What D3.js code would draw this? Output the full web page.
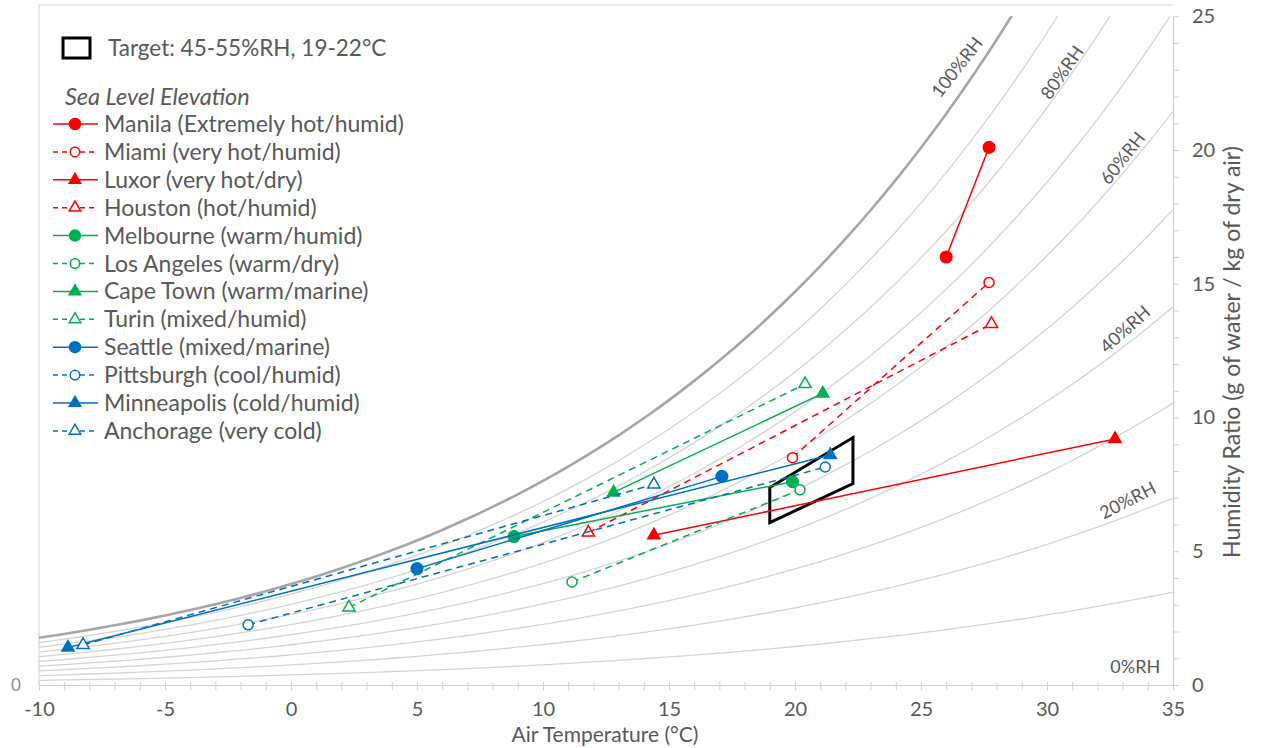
<!DOCTYPE html>
<html>
<head>
<meta charset="utf-8">
<script src="https://cdnjs.cloudflare.com/ajax/libs/d3/7.8.5/d3.min.js"></script>
<style>
  body { margin: 0; background: #fff; }
  text { font-family: Lato, "Open Sans", sans-serif; fill: #595959; }
</style>
</head>
<body>
<svg id="chart" width="1266" height="748"></svg>
<script>
// ---- data ----
var cityNames = [
    "Manila (Extremely hot/humid)", "Miami (very hot/humid)", "Luxor (very hot/dry)", "Houston (hot/humid)",
    "Melbourne (warm/humid)", "Los Angeles (warm/dry)", "Cape Town (warm/marine)", "Turin (mixed/humid)",
    "Seattle (mixed/marine)", "Pittsburgh (cool/humid)", "Minneapolis (cold/humid)", "Anchorage (very cold)"
];
// two points per city (°C)
var cityTemp = [
    [26.0, 27.7], [19.9, 27.7], [14.4, 32.7], [11.8, 27.8],
    [8.85, 19.9], [11.15, 20.2], [12.8, 21.1], [2.3, 20.4],
    [5.0, 17.1], [-1.7, 21.2], [-8.85, 21.4], [-8.25, 14.4]
];
// humidity ratio g/kg
var cityHum = [
    [16.0, 20.1], [8.5, 15.05], [5.6, 9.2], [5.7, 13.5],
    [5.55, 7.6], [3.85, 7.3], [7.2, 10.9], [2.9, 11.25],
    [4.35, 7.8], [2.25, 8.15], [1.4, 8.6], [1.5, 7.5]
];

// target zone outline
var targetTemp = [19, 19, 22.3, 22.3];
var targetHum = [6.07, 7.38, 9.25, 7.53];

// RH curves: saturation pressure table (kPa) at each °C from -10 to 35
var curveTemps = d3.range(-10, 36, 1);
var satPressure = [
    0.2865, 0.3101, 0.3352, 0.3620, 0.3906, 0.4215, 0.4545, 0.4898, 0.5275, 0.5678,
    0.6112, 0.6571, 0.7060, 0.7581, 0.8135, 0.8726, 0.9354, 1.0021, 1.0730, 1.1482,
    1.2282, 1.3129, 1.4028, 1.4981, 1.5990, 1.7058, 1.8188, 1.9384, 2.0647, 2.1983,
    2.3393, 2.4882, 2.6453, 2.8111, 2.9858, 3.1699, 3.3639, 3.5681, 3.7831, 4.0092,
    4.2470, 4.4969, 4.7596, 5.0354, 5.3251, 5.6290
];
var rhLevels = [10, 20, 30, 40, 50, 60, 70, 80, 90, 100];
var rhLabels = ["100%RH", "80%RH", "60%RH", "40%RH", "20%RH", "0%RH"];

var xTicks = d3.range(-10, 36, 1);
var yTicks = d3.range(0, 26, 1);

// ---- styles ----
var groupColors = ["#ff0000", "#00b050", "#0070c0"];
function seriesStyle(i) {
    return {
        color: groupColors[Math.floor(i / 4)],
        tri: (i % 4) >= 2,
        hollow: (i % 2) === 1
    };
}

var svg = d3.select("#chart");

var x = d3.scaleLinear().domain([-10, 35]).range([39, 1173]);
var y = d3.scaleLinear().domain([0, 25]).range([685, 16.25]);

// frame
svg.append("line").attr("x1", 39).attr("x2", 1173).attr("y1", 5).attr("y2", 5)
    .attr("stroke", "#d9d9d9").attr("stroke-width", 1.2);
svg.append("line").attr("x1", 39).attr("x2", 39).attr("y1", 5).attr("y2", 685)
    .attr("stroke", "#d9d9d9").attr("stroke-width", 1.2);

svg.append("clipPath").attr("id", "plotClip")
    .append("rect").attr("x", 39).attr("y", y(25)).attr("width", 1173 - 39).attr("height", y(0) - y(25));

// RH curves
var line = d3.line().x(function(d) { return x(d[0]); }).y(function(d) { return y(d[1]); }).curve(d3.curveMonotoneX);
var curves = svg.append("g").attr("clip-path", "url(#plotClip)");
rhLevels.forEach(function(rh) {
    var pts = curveTemps.map(function(t, k) {
        var pv = rh / 100 * satPressure[k];
        return [t, 622 * pv / (101.325 - pv)];
    });
    curves.append("path").attr("d", line(pts)).attr("fill", "none")
        .attr("stroke", rh === 100 ? "#a6a6a6" : "#d4d4d4")
        .attr("stroke-width", rh === 100 ? 2.6 : 1.3);
});

// RH labels
var rhLabelPos = [[26.43, 23.1, -52], [30.6, 22.9, -55], [33.0, 19.7, -52], [33.1, 13.3, -42], [33.2, 6.9, -27], [33.5, 0.67, 0]];
rhLabels.forEach(function(t, i) {
    var p = rhLabelPos[i];
    svg.append("text")
        .attr("transform", "translate(" + x(p[0]) + "," + y(p[1]) + ") rotate(" + p[2] + ")")
        .attr("text-anchor", "middle").attr("dy", "0.35em")
        .style("font-size", "18px").text(t);
});

// axes
var xAxis = svg.append("g").attr("transform", "translate(0," + y(0) + ")")
    .call(d3.axisBottom(x).tickValues(xTicks).tickSizeInner(5).tickSizeOuter(0).tickPadding(12)
        .tickFormat(function(d) { return d % 5 === 0 ? d : ""; }));
xAxis.select(".domain").attr("stroke", "#d0d0d0").attr("stroke-width", 1.2);
xAxis.selectAll(".tick line").attr("stroke", "#d0d0d0").attr("y1", -3).attr("y2", 5);
xAxis.selectAll(".tick text").style("font-size", "20px").attr("fill", "#595959").style("font-family", "Lato");

var yAxis = svg.append("g").attr("transform", "translate(" + x(35) + ",0)")
    .call(d3.axisRight(y).tickValues(yTicks).tickSizeInner(6).tickSizeOuter(0).tickPadding(13)
        .tickFormat(function(d) { return d % 5 === 0 ? d : ""; }));
yAxis.select(".domain").attr("stroke", "#d0d0d0").attr("stroke-width", 1.2);
yAxis.selectAll(".tick line").attr("stroke", "#d0d0d0");
yAxis.selectAll(".tick text").style("font-size", "20px").attr("fill", "#595959").style("font-family", "Lato");

svg.append("text").attr("x", 16).attr("y", y(0)).attr("dy", "0.35em").attr("text-anchor", "middle")
    .style("font-size", "17px").style("fill", "#8c8c8c").text("0");

svg.append("text").attr("x", 605).attr("y", 742).attr("text-anchor", "middle")
    .style("font-size", "21px").text("Air Temperature (°C)");
svg.append("text").attr("transform", "translate(1240,352) rotate(-90)").attr("text-anchor", "middle")
    .style("font-size", "23px").text("Humidity Ratio (g of water / kg of dry air)");

// target box
var targetPts = targetTemp.map(function(t, i) { return [x(t), y(targetHum[i])]; });
svg.append("polygon").attr("points", targetPts.map(function(p) { return p.join(","); }).join(" "))
    .attr("fill", "none").attr("stroke", "#000").attr("stroke-width", 3);

// markers
function drawMarker(g, st, px, py, scale) {
    if (st.tri) {
        g.append("path").attr("d", d3.symbol().type(d3.symbolTriangle).size(64 * scale)())
            .attr("transform", "translate(" + px + "," + py + ")")
            .attr("fill", st.hollow ? "#fff" : st.color).attr("stroke", st.color).attr("stroke-width", 1.5);
    } else {
        g.append("circle").attr("cx", px).attr("cy", py).attr("r", (st.hollow ? 5 : 5.8) * Math.sqrt(scale))
            .attr("fill", st.hollow ? "#fff" : st.color).attr("stroke", st.color).attr("stroke-width", 1.5);
    }
}

var series = svg.append("g");
cityNames.forEach(function(name, i) {
    var st = seriesStyle(i);
    var pts = cityTemp[i].map(function(t, k) { return [t, cityHum[i][k]]; });
    var g = series.append("g");
    g.append("path").attr("d", d3.line().x(function(d) { return x(d[0]); }).y(function(d) { return y(d[1]); })(pts))
        .attr("fill", "none").attr("stroke", st.color).attr("stroke-width", 1.5)
        .attr("stroke-dasharray", st.hollow ? "7,5" : null);
    pts.forEach(function(d) { drawMarker(g, st, x(d[0]), y(d[1]), 1); });
});

// legend
var leg = svg.append("g");
leg.append("rect").attr("x", 63).attr("y", 38).attr("width", 27).attr("height", 20)
    .attr("fill", "none").attr("stroke", "#000").attr("stroke-width", 3);
leg.append("text").attr("x", 108).attr("y", 48).attr("dy", "0.35em").style("font-size", "22.5px")
    .text("Target: 45-55%RH, 19-22°C");
leg.append("text").attr("x", 65).attr("y", 97).attr("dy", "0.35em").style("font-size", "23.5px")
    .style("font-style", "italic").text("Sea Level Elevation");
cityNames.forEach(function(name, i) {
    var st = seriesStyle(i);
    var cy = 124 + i * 27.9;
    leg.append("line").attr("x1", 53).attr("x2", 98).attr("y1", cy).attr("y2", cy)
        .attr("stroke", st.color).attr("stroke-width", 1.5).attr("stroke-dasharray", st.hollow ? "5,4" : null);
    drawMarker(leg, st, 75, cy, 0.9);
    leg.append("text").attr("x", 104).attr("y", cy).attr("dy", "0.35em").style("font-size", "23px").text(name);
});
</script>
</body>
</html>
